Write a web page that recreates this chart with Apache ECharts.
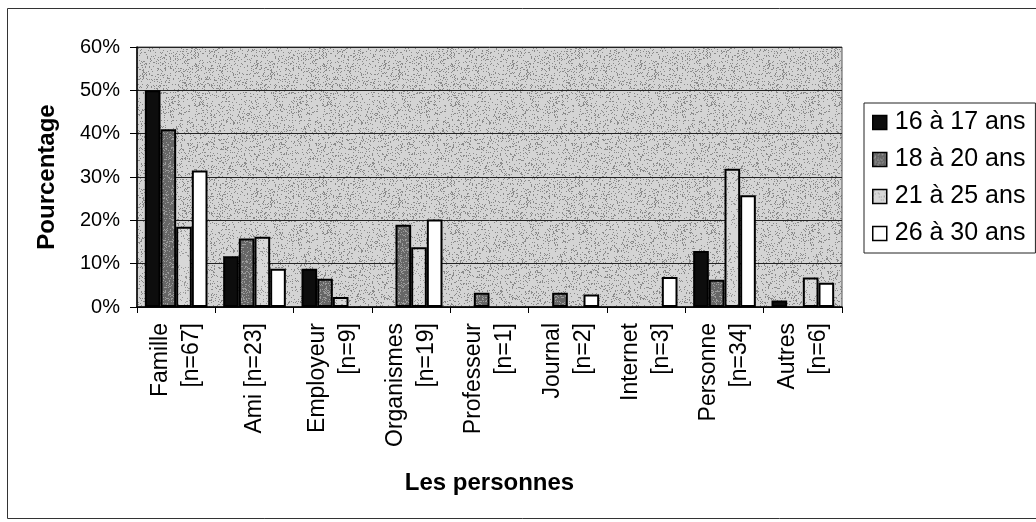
<!DOCTYPE html>
<html>
<head>
<meta charset="utf-8">
<script src="https://cdn.jsdelivr.net/npm/echarts@6/dist/echarts.min.js"></script>
<style>
  html, body { margin: 0; padding: 0; background: #fff; }
  #chart { width: 1036px; height: 522px; }
</style>
</head>
<body>
<div id="chart"></div>
<script>
// catégories (axe x) et séries en pourcentage
const categories = [
  'Famille\n[n=67]', 'Ami [n=23]', 'Employeur\n[n=9]', 'Organismes\n[n=19]',
  'Professeur\n[n=1]', 'Journal\n[n=2]', 'Internet\n[n=3]', 'Personne\n[n=34]', 'Autres\n[n=6]'
]
const seriesNames = ['16 à 17 ans', '18 à 20 ans', '21 à 25 ans', '26 à 30 ans']
const ans16a17 = [50, 11.7, 8.8, 0, 0, 0, 0, 12.9, 1.5]
const ans18a20 = [41, 15.8, 6.5, 19, 3.3, 3.3, 0, 6.3, 0]
const ans21a25 = [18.5, 16.2, 2.3, 13.8, 0, 0, 0, 31.9, 6.8]
const ans26a30 = [31.5, 8.8, 0, 20.2, 0, 2.9, 6.9, 25.8, 5.6]
const yTicks = [0, 10, 20, 30, 40, 50, 60]

const font = 'Liberation Sans, Arial, sans-serif'

// texture pointillée façon Excel (bruit déterministe, pas des données)
function stipple(base, dot, density, seed) {
  const size = 128
  const c = document.createElement('canvas')
  c.width = size
  c.height = size
  const ctx = c.getContext('2d')
  ctx.fillStyle = base
  ctx.fillRect(0, 0, size, size)
  ctx.fillStyle = dot
  let a = seed >>> 0
  const rnd = () => {
    a = (a + 0x6D2B79F5) >>> 0
    let t = a
    t = Math.imul(t ^ (t >>> 15), t | 1)
    t ^= t + Math.imul(t ^ (t >>> 7), t | 61)
    return ((t ^ (t >>> 14)) >>> 0) / 4294967296
  }
  for (let i = 0; i < size * size * density; i++) {
    ctx.fillRect(Math.floor(rnd() * size), Math.floor(rnd() * size), 1, 1)
  }
  return { image: c, repeat: 'repeat' }
}

const plotFill = stipple('#d4d4d4', '#8a8a8a', 0.16, 7)
const colors = [
  '#0d0d0d',
  stipple('#666666', '#9c9c9c', 0.25, 3),
  stipple('#d8d8d8', '#999999', 0.12, 11),
  '#ffffff'
]
const values = [ans16a17, ans18a20, ans21a25, ans26a30]

const chart = echarts.init(document.getElementById('chart'))

chart.setOption({
  animation: false,
  textStyle: { fontFamily: font, color: '#000' },
  graphic: [{
    type: 'rect',
    shape: { x: 7.5, y: 8.5, width: 1040, height: 510 },
    style: { fill: 'none', stroke: '#333', lineWidth: 1 },
    z: -1
  }],
  legend: {
    orient: 'vertical',
    left: 864,
    top: 103,
    data: seriesNames,
    icon: 'rect',
    itemWidth: 14,
    itemHeight: 14,
    itemGap: 12,
    padding: [7, 10, 7, 8],
    borderColor: '#222',
    borderWidth: 1,
    textStyle: { fontSize: 25, lineHeight: 25, color: '#000', padding: [0, 0, 0, 3] },
    itemStyle: { borderColor: '#000', borderWidth: 1.5 }
  },
  grid: {
    left: 137,
    top: 47,
    right: 194,
    bottom: 215,
    show: true,
    backgroundColor: plotFill,
    borderColor: '#555',
    borderWidth: 1
  },
  xAxis: {
    type: 'category',
    data: categories,
    name: 'Les personnes',
    nameLocation: 'middle',
    nameGap: 164,
    nameTextStyle: { fontSize: 24, fontWeight: 'bold', color: '#000' },
    axisLine: { lineStyle: { color: '#000', width: 1.5 } },
    axisTick: { show: true, length: 6, lineStyle: { color: '#000' } },
    axisLabel: {
      rotate: 90,
      interval: 0,
      fontSize: 23,
      lineHeight: 31,
      margin: 16,
      color: '#000'
    }
  },
  yAxis: {
    type: 'value',
    min: yTicks[0],
    max: yTicks[yTicks.length - 1],
    interval: 10,
    name: 'Pourcentage',
    nameLocation: 'middle',
    nameRotate: 90,
    nameGap: 78,
    nameTextStyle: { fontSize: 24, fontWeight: 'bold', color: '#000' },
    axisLine: { show: true, lineStyle: { color: '#000', width: 1.5 } },
    axisTick: { show: true, length: 7, lineStyle: { color: '#000' } },
    axisLabel: { formatter: '{value}%', fontSize: 20, margin: 17, color: '#000' },
    splitLine: { lineStyle: { color: '#222', width: 1 } }
  },
  series: values.map((vals, i) => ({
    name: seriesNames[i],
    type: 'bar',
    barGap: '0%',
    barCategoryGap: '20%',
    data: vals.map(v => (v === 0 ? null : v)),
    itemStyle: { color: colors[i], borderColor: '#000', borderWidth: 2 }
  }))
})
</script>
</body>
</html>
